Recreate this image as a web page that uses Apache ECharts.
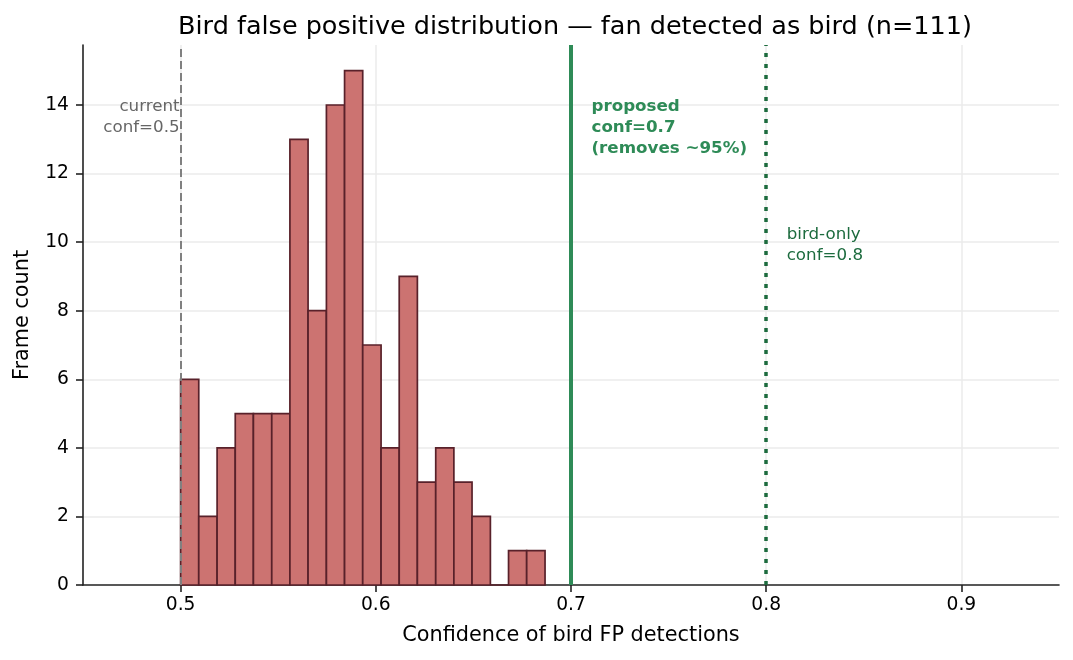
<!DOCTYPE html>
<html>
<head>
<meta charset="utf-8">
<script src="https://cdn.jsdelivr.net/npm/echarts@6/dist/echarts.min.js"></script>
<style>
  html, body { margin: 0; padding: 0; background: #fff; }
  #chart { width: 1073px; height: 660px; }
</style>
</head>
<body>
<div id="chart"></div>
<script>
// histogram bin edges (20 bins) and counts
const binEdges = [0.5, 0.5093, 0.5187, 0.528, 0.5373, 0.5467, 0.556, 0.5653, 0.5747, 0.584,
  0.5933, 0.6027, 0.612, 0.6213, 0.6307, 0.64, 0.6493, 0.6587, 0.668, 0.6773, 0.6867];
const binCounts = [6, 2, 4, 5, 5, 5, 13, 8, 14, 15, 7, 4, 9, 3, 4, 3, 2, 0, 1, 1];

const xTicks = [0.5, 0.6, 0.7, 0.8, 0.9];
const yTicks = [0, 2, 4, 6, 8, 10, 12, 14];

const thresholds = [
  { value: 0.5, color: '#808080', width: 2, type: [8, 4] },
  { value: 0.7, color: '#2e8b57', width: 4, type: 'solid' },
  { value: 0.8, color: '#1c6b3e', width: 3.5, type: [4, 7] }
];

// annotation text: [x, y, text, align, color, weight]
const notes = [
  [0.4995, 14.27, 'current\nconf=0.5', 'right', '#666666', 'normal'],
  [0.7105, 14.27, 'proposed\nconf=0.7\n(removes ~95%)', 'left', '#2e8b57', 'bold'],
  [0.8105, 10.53, 'bird-only\nconf=0.8', 'left', '#1c6b3e', 'normal']
];

const font = 'DejaVu Sans';

const bars = binCounts.map((c, i) => [binEdges[i], binEdges[i + 1], c]);

const chart = echarts.init(document.getElementById('chart'));

chart.setOption({
  animation: false,
  textStyle: { fontFamily: font },
  title: {
    text: 'Bird false positive distribution \u2014 fan detected as bird (n=111)',
    left: 570,
    textAlign: 'center',
    top: 9,
    textStyle: { fontFamily: font, fontSize: 25.5, fontWeight: 'normal', color: '#000' }
  },
  grid: { left: 83, right: 14, top: 45, bottom: 75 },
  xAxis: {
    type: 'value',
    min: 0.45,
    max: 0.95,
    name: 'Confidence of bird FP detections',
    nameLocation: 'middle',
    nameGap: 40,
    nameTextStyle: { fontFamily: font, fontSize: 20.8, color: '#000' },
    axisLine: { show: true, lineStyle: { color: '#222', width: 1.6 } },
    axisTick: { show: true, customValues: xTicks, length: 7, lineStyle: { color: '#222', width: 1.6 } },
    axisLabel: {
      customValues: xTicks,
      fontFamily: font, fontSize: 18.7, color: '#000', margin: 11,
      formatter: v => v.toFixed(1)
    },
    splitLine: { show: false }
  },
  yAxis: {
    type: 'value',
    min: 0,
    max: 15.75,
    interval: 2,
    name: 'Frame count',
    nameLocation: 'middle',
    nameGap: 50,
    nameTextStyle: { fontFamily: font, fontSize: 20.8, color: '#000' },
    axisLine: { show: true, lineStyle: { color: '#222', width: 1.6 } },
    axisTick: { show: true, customValues: yTicks, length: 7, lineStyle: { color: '#222', width: 1.6 } },
    axisLabel: { customValues: yTicks, fontFamily: font, fontSize: 18.7, color: '#000', margin: 14 },
    splitLine: { show: false }
  },
  series: [
    {
      // light grid lines, behind the bars
      type: 'line',
      data: [],
      silent: true,
      z: 0,
      markLine: {
        symbol: 'none',
        silent: true,
        z: 0,
        label: { show: false },
        lineStyle: { color: '#ebebeb', width: 1.5, type: 'solid' },
        data: xTicks.map(v => ({ xAxis: v })).concat(yTicks.slice(1).map(v => ({ yAxis: v })))
      }
    },
    {
      type: 'custom',
      data: bars,
      z: 3,
      renderItem: (params, api) => {
        const p0 = api.coord([api.value(0), api.value(2)]);
        const p1 = api.coord([api.value(1), 0]);
        return {
          type: 'rect',
          shape: { x: p0[0], y: p0[1], width: p1[0] - p0[0], height: p1[1] - p0[1] },
          style: { fill: '#cc7371', stroke: '#58212a', lineWidth: 1.7 }
        };
      },
      encode: { x: [0, 1], y: 2 }
    },
    {
      type: 'line',
      data: [],
      silent: true,
      z: 5,
      markLine: {
        symbol: 'none',
        silent: true,
        z: 5,
        label: { show: false },
        data: thresholds.map(t => ({
          xAxis: t.value,
          lineStyle: { color: t.color, width: t.width, type: t.type }
        }))
      }
    },
    {
      type: 'custom',
      data: notes,
      z: 6,
      renderItem: (params, api) => {
        const n = notes[params.dataIndex];
        const p = api.coord([n[0], n[1]]);
        return {
          type: 'text',
          x: p[0], y: p[1],
          style: {
            text: n[2],
            textAlign: n[3],
            textVerticalAlign: 'top',
            fill: n[4],
            fontWeight: n[5],
            fontFamily: font,
            fontSize: 16.7,
            lineHeight: 21
          }
        };
      },
      encode: { x: 0, y: 1 }
    }
  ]
});
</script>
</body>
</html>
